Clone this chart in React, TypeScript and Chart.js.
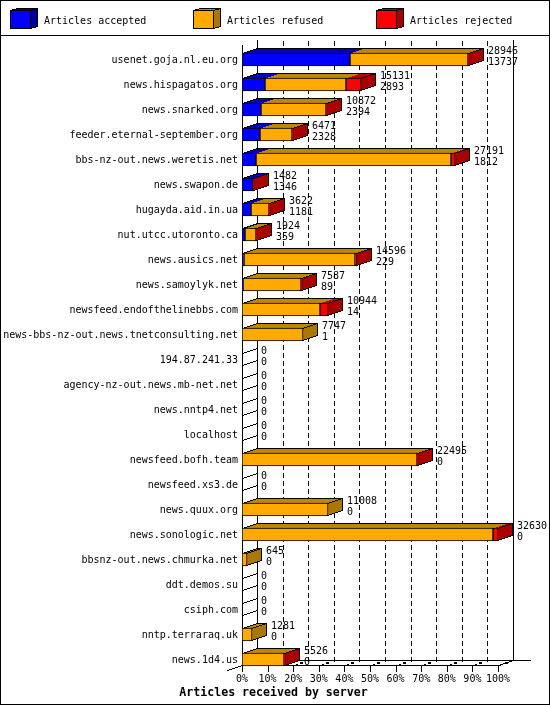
import { useEffect, useRef } from "react";
import { Chart, registerables } from "chart.js";

Chart.register(...registerables);

const servers = [
  "usenet.goja.nl.eu.org",
  "news.hispagatos.org",
  "news.snarked.org",
  "feeder.eternal-september.org",
  "bbs-nz-out.news.weretis.net",
  "news.swapon.de",
  "hugayda.aid.in.ua",
  "nut.utcc.utoronto.ca",
  "news.ausics.net",
  "news.samoylyk.net",
  "newsfeed.endofthelinebbs.com",
  "news-bbs-nz-out.news.tnetconsulting.net",
  "194.87.241.33",
  "agency-nz-out.news.mb-net.net",
  "news.nntp4.net",
  "localhost",
  "newsfeed.bofh.team",
  "newsfeed.xs3.de",
  "news.quux.org",
  "news.sonologic.net",
  "bbsnz-out.news.chmurka.net",
  "ddt.demos.su",
  "csiph.com",
  "nntp.terraraq.uk",
  "news.1d4.us",
];
const accepted = [13737, 2893, 2394, 2328, 1812, 1346, 1181, 359, 229, 89, 14, 1, 0, 0, 0, 0, 0, 0, 0, 0, 0, 0, 0, 0, 0];
const refused = [15079, 10403, 8348, 4013, 24879, 0, 2311, 1435, 14237, 7368, 9980, 7746, 0, 0, 0, 0, 22365, 0, 11008, 31990, 645, 0, 0, 1281, 5396];
const rejected = [130, 1835, 130, 130, 500, 136, 130, 130, 130, 130, 950, 0, 0, 0, 0, 0, 130, 0, 0, 640, 0, 0, 0, 0, 130];
const seriesNames = ["Articles accepted", "Articles refused", "Articles rejected"];
const maxArticles = 32630;

const MONO = '"DejaVu Sans Mono", monospace';
const frontColors = ["#0000ff", "#ffaa00", "#ff0000"];
const topColors = ["#0000bb", "#bb8800", "#bb0000"];
const sideColors = ["#0000aa", "#aa7700", "#aa0000"];
const DX = 15;
const DY = 5;

type Ctx = CanvasRenderingContext2D;

// canvas lines come out blurred on slants, so step them pixel by pixel
function pixelLine(ctx: Ctx, x0: number, y0: number, x1: number, y1: number) {
  const steps = Math.max(Math.abs(x1 - x0), Math.abs(y1 - y0));
  ctx.fillStyle = "#000";
  for (let i = 0; i <= steps; i++) {
    ctx.fillRect(Math.round(x0 + ((x1 - x0) * i) / steps), Math.round(y0 + ((y1 - y0) * i) / steps), 1, 1);
  }
}

function topFace(ctx: Ctx, a: number, b: number, top: number, dx: number, dy: number, color: string) {
  ctx.fillStyle = color;
  for (let i = 0; i <= dy; i++) {
    ctx.fillRect(a + Math.round((i * dx) / dy), top - i, b - a, 1);
  }
}

function sideFace(ctx: Ctx, end: number, top: number, bottom: number, dx: number, dy: number, color: string) {
  ctx.fillStyle = color;
  for (let c = 0; c <= dx; c++) {
    ctx.fillRect(end + c, top - Math.round((c * dy) / dx), 1, bottom - top + 1);
  }
}

function outline(ctx: Ctx, left: number, end: number, top: number, bottom: number, dx: number, dy: number) {
  pixelLine(ctx, left, top, left + dx, top - dy);
  pixelLine(ctx, left + dx, top - dy, end + dx, top - dy);
  pixelLine(ctx, end, top, end + dx, top - dy);
  pixelLine(ctx, end + dx, top - dy, end + dx, bottom - dy);
  pixelLine(ctx, end, bottom, end + dx, bottom - dy);
}

const snapBars = {
  id: "snapBars",
  afterLayout(chart: any) {
    // the title centres on the whole picture, not on the padded box
    chart.titleBlock.left = 0;
    chart.titleBlock.right = 547;
  },
  afterDatasetsUpdate(chart: Chart) {
    chart.data.datasets.forEach((_, d) => {
      chart.getDatasetMeta(d).data.forEach((el: any) => {
        el.x = Math.round(el.x);
        el.base = Math.round(el.base);
      });
    });
  },
};

const frame3d = {
  id: "frame3d",
  beforeDraw(chart: Chart) {
    const ctx = chart.ctx;
    ctx.save();
    ctx.fillStyle = "#fff";
    ctx.fillRect(0, 0, 550, 705);
    ctx.fillStyle = "#000";
    ctx.fillRect(0, 0, 550, 1);
    ctx.fillRect(0, 704, 550, 1);
    ctx.fillRect(0, 0, 1, 705);
    ctx.fillRect(549, 0, 1, 705);
    ctx.fillRect(0, 35, 550, 1);

    seriesNames.forEach((name, i) => {
      const x = 10 + i * 183;
      topFace(ctx, x, x + 21, 10, 7, 2, topColors[i]);
      sideFace(ctx, x + 20, 10, 28, 7, 2, sideColors[i]);
      outline(ctx, x, x + 20, 10, 28, 7, 2);
      ctx.fillStyle = frontColors[i];
      ctx.fillRect(x, 10, 21, 19);
      ctx.strokeStyle = "#000";
      ctx.lineWidth = 1;
      ctx.strokeRect(x + 0.5, 10.5, 20, 18);
      ctx.fillStyle = "#000";
      ctx.font = `10px ${MONO}`;
      ctx.textBaseline = "middle";
      ctx.textAlign = "left";
      ctx.fillText(name, x + 34, 21);
    });
    ctx.restore();
  },
  beforeDatasetsDraw(chart: Chart) {
    const ctx = chart.ctx;
    const xs = chart.scales.x;
    const x0 = Math.round(xs.getPixelForValue(0));
    const x100 = Math.round(xs.getPixelForValue(maxArticles));
    const floor = 665;
    ctx.save();
    ctx.fillStyle = "#000";

    // back wall, dashed gridlines
    ctx.fillRect(x0 + DX, 40, 1, floor - DY - 40);
    ctx.fillRect(x100 + DX, 40, 1, floor - DY - 40);
    for (let k = 1; k < 10; k++) {
      const x = Math.round(xs.getPixelForValue((maxArticles * k) / 10)) + DX;
      for (let y = 41; y < floor - DY; y += 8) ctx.fillRect(x, y, 1, 5);
    }

    // floor and front axis
    ctx.fillRect(x0, 45, 1, floor + 6 - 45);
    ctx.fillRect(x0, floor, x100 - x0, 1);
    ctx.fillRect(x0 + DX, floor - DY, 531 - x0 - DX, 1);
    pixelLine(ctx, x0 - DX, floor + DY, x0 + DX, floor - DY);
    pixelLine(ctx, x100, floor, x100 + DX, floor - DY);
    for (let k = 0; k <= 10; k++) {
      const x = Math.round(xs.getPixelForValue((maxArticles * k) / 10));
      ctx.fillRect(x, floor, 1, 7);
      pixelLine(ctx, x, floor, x + 4, floor - 1);
      ctx.fillStyle = "#000";
      ctx.fillRect(x + 7, floor - 3, 3, 2);
    }

    // depth of the bars, the fronts are the chart's own bars
    servers.forEach((_, row) => {
      const center = chart.getDatasetMeta(0).data[row].y;
      const top = Math.floor(center) - 6;
      const bottom = top + 12;
      const values = [accepted[row], refused[row], rejected[row]];
      if (values.every((v) => v === 0)) {
        pixelLine(ctx, x0, top, x0 + DX, top - DY);
        pixelLine(ctx, x0, bottom, x0 + DX, bottom - DY);
        return;
      }
      let last = 0;
      let end = x0;
      values.forEach((v, d) => {
        if (v === 0) return;
        const el: any = chart.getDatasetMeta(d).data[row];
        topFace(ctx, el.base, el.x, top, DX, DY, topColors[d]);
        last = d;
        end = el.x - 1;
      });
      sideFace(ctx, end, top, bottom, DX, DY, sideColors[last]);
      outline(ctx, x0, end, top, bottom, DX, DY);
    });
    ctx.restore();
  },
  afterDatasetsDraw(chart: Chart) {
    const ctx = chart.ctx;
    const xs = chart.scales.x;
    ctx.save();
    ctx.fillStyle = "#000";
    ctx.font = `10px ${MONO}`;
    ctx.textBaseline = "middle";
    ctx.textAlign = "left";
    servers.forEach((_, row) => {
      const center = Math.floor(chart.getDatasetMeta(0).data[row].y);
      const total = accepted[row] + refused[row] + rejected[row];
      const x = Math.round(xs.getPixelForValue(total)) + DX + 4;
      ctx.fillText(String(total), x, center - 8);
      ctx.fillText(String(accepted[row]), x, center + 3);
    });
    ctx.restore();
  },
};

export default function App() {
  const canvasRef = useRef<HTMLCanvasElement>(null);

  useEffect(() => {
    const canvas = canvasRef.current;
    if (!canvas) return;

    const chart = new Chart(canvas.getContext("2d")!, {
      type: "bar",
      data: {
        labels: servers,
        datasets: [accepted, refused, rejected].map((values, i) => ({
          label: seriesNames[i],
          data: values.map((v) => (v === 0 ? null : v)),
          backgroundColor: frontColors[i],
          borderColor: "#000",
          borderWidth: 1,
          borderSkipped: false,
          barThickness: 13,
        })),
      },
      options: {
        indexAxis: "y",
        responsive: false,
        animation: false,
        devicePixelRatio: 1,
        layout: { padding: { top: 47, right: 52, bottom: 5, left: 0 } },
        scales: {
          x: {
            stacked: true,
            min: 0,
            max: maxArticles,
            afterFit: (scale) => {
              scale.height = 14;
            },
            grid: { display: false, drawTicks: false },
            border: { display: false },
            ticks: {
              stepSize: maxArticles / 10,
              autoSkip: false,
              maxRotation: 0,
              padding: 1,
              color: "#000",
              font: { family: MONO, size: 10 },
              callback: (v) => `${Math.round((Number(v) / maxArticles) * 100)}%`,
            },
          },
          y: {
            stacked: true,
            afterFit: (scale) => {
              scale.width = 242;
            },
            grid: { display: false, drawTicks: false },
            border: { display: false },
            ticks: {
              autoSkip: false,
              padding: 4,
              labelOffset: 1,
              color: "#000",
              font: { family: MONO, size: 10 },
            },
          },
        },
        plugins: {
          legend: { display: false },
          tooltip: { enabled: false },
          title: {
            display: true,
            position: "bottom",
            text: "Articles received by server",
            color: "#000",
            padding: 0,
            font: { family: MONO, size: 11.6, weight: "bold", lineHeight: "14px" },
          },
        },
      },
      plugins: [snapBars, frame3d],
    });

    return () => chart.destroy();
  }, []);

  return (
    <div style={{ position: "absolute", left: 0, top: 0 }}>
      <canvas ref={canvasRef} width={550} height={705} style={{ display: "block" }} />
    </div>
  );
}
